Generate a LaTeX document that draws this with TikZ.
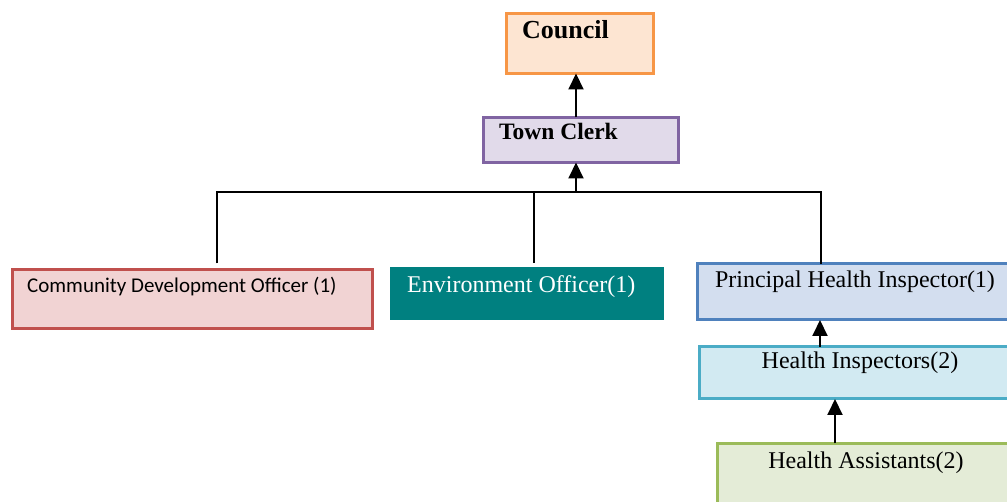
\documentclass[tikz,border=0pt]{standalone}
\usepackage{fontspec}
\setmainfont{Liberation Serif}
\newfontfamily\calibri{Carlito}
\usetikzlibrary{arrows.meta}

\definecolor{cOrange}{HTML}{F79646}
\definecolor{cOrangeFill}{HTML}{FDE5D2}
\definecolor{cPurple}{HTML}{8064A2}
\definecolor{cPurpleFill}{HTML}{E1DAEA}
\definecolor{cRed}{HTML}{C0504D}
\definecolor{cRedFill}{HTML}{F1D3D3}
\definecolor{cTeal}{HTML}{008080}
\definecolor{cBlue}{HTML}{4F81BD}
\definecolor{cBlueFill}{HTML}{D3DEEF}
\definecolor{cAqua}{HTML}{4BACC6}
\definecolor{cAquaFill}{HTML}{D2EAF2}
\definecolor{cGreen}{HTML}{9BBB59}
\definecolor{cGreenFill}{HTML}{E4ECD7}

\tikzset{
  box/.style={rectangle, anchor=north west, inner sep=0pt, outer sep=0pt, line width=3pt},
  lbl/.style={inner sep=0pt, font=\fontsize{24}{28}\selectfont},
  link/.style={line width=2pt, black},
  up/.style={link, -{Triangle[length=16pt,width=15pt]}},
}

\begin{document}
\begin{tikzpicture}[x=1pt, y=-1pt]
  \useasboundingbox (0,0) rectangle (1007,502);
  \clip (0,0) rectangle (1007,502);

  % boxes
  \node[box, draw=cOrange, fill=cOrangeFill, minimum width=147pt, minimum height=60pt] (council) at (506.5,13.5) {};
  \node[box, draw=cPurple, fill=cPurpleFill, minimum width=195pt, minimum height=45pt] (clerk) at (483,117.5) {};
  \node[box, draw=cRed, fill=cRedFill, minimum width=360pt, minimum height=59pt] (cdo) at (12.5,269.5) {};
  \node[box, fill=cTeal, minimum width=274pt, minimum height=53pt] (env) at (390,267) {};
  \node[box, draw=cBlue, fill=cBlueFill, minimum width=330pt, minimum height=56pt] (phi) at (697.5,264) {};
  \node[box, draw=cAqua, fill=cAquaFill, minimum width=330pt, minimum height=52pt] (hi) at (699,347) {};
  \node[box, draw=cGreen, fill=cGreenFill, minimum width=310pt, minimum height=80pt] (ha) at (717.5,443.5) {};

  % labels
  \node[lbl, anchor=base west, font=\fontsize{26}{30}\selectfont\bfseries] (councilT) at (522,39) {Council};
  \node[lbl, anchor=base west, font=\fontsize{23.5}{28}\selectfont\bfseries] (clerkT) at (499,140) {Town Clerk};
  \node[lbl, anchor=base west, font=\fontsize{21}{25}\selectfont\calibri] (cdoT) at (27,293) {Community Development Officer (1)};
  \node[lbl, anchor=base west, text=white] (envT) at (407,293) {Environment Officer(1)};
  \node[lbl, anchor=base] (phiT) at (855,288) {Principal Health Inspector(1)};
  \node[lbl, anchor=base] (hiT) at (860,369) {Health Inspectors(2)};
  \node[lbl, anchor=base] (haT) at (866,468) {Health Assistants(2)};

  % reporting lines
  \coordinate (colC) at (576,0);
  \coordinate (busC) at (576,192);
  \coordinate (busL) at (217,192);
  \coordinate (busM) at (534,192);
  \coordinate (busR) at (821,192);
  \coordinate (colP) at (820,0);
  \coordinate (colH) at (835,0);

  \draw[up] (colC |- clerk.north) -- (colC |- council.south);
  \draw[up] (busC) -- (busC |- clerk.south);
  \draw[link] (busL |- cdo.north) ++(0,-6) -- (busL) -- (busR) -- (busR |- phi.north);
  \draw[link] (busM |- env.north) ++(0,-4) -- (busM);
  \draw[up] (colP |- hi.north) -- (colP |- phi.south);
  \draw[up] (colH |- ha.north) -- (colH |- hi.south);
\end{tikzpicture}
\end{document}
